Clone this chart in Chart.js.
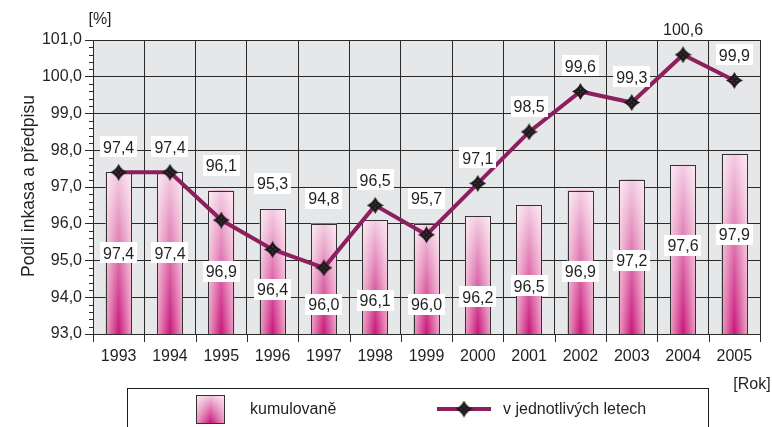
<!DOCTYPE html>
<html>
<head>
<meta charset="utf-8">
<script src="https://cdn.jsdelivr.net/npm/chart.js@4.4.0/dist/chart.umd.min.js"></script>
<style>
  html, body { margin: 0; padding: 0; background: #fff; }
  #wrap { width: 772px; height: 427px; }
</style>
</head>
<body>
<div id="wrap"><canvas id="graf" width="772" height="427"></canvas></div>
<script>
// data
const roky = ['1993', '1994', '1995', '1996', '1997', '1998', '1999', '2000', '2001', '2002', '2003', '2004', '2005'];
const kumulovane = [97.4, 97.4, 96.9, 96.4, 96.0, 96.1, 96.0, 96.2, 96.5, 96.9, 97.2, 97.6, 97.9];
const vLetech = [97.4, 97.4, 96.1, 95.3, 94.8, 96.5, 95.7, 97.1, 98.5, 99.6, 99.3, 100.6, 99.9];
const osaMin = 93;
const osaMax = 101;

const FONT = '"Liberation Sans", Arial, sans-serif';
const TEXT = '#231f20';
const GRID = '#2a2a2a';
const LINE = '#8d1f5e';

const fmt = (v) => v.toFixed(1).replace('.', ',');

// marker - ctyrcipa hvezda
function hvezda() {
  const s = 17, m = s / 2, k = 2.6;
  const c = document.createElement('canvas');
  c.width = s; c.height = s;
  const g = c.getContext('2d');
  g.fillStyle = '#1b1b1b';
  g.beginPath();
  g.moveTo(m, 0);
  g.quadraticCurveTo(m + k, m - k, s, m);
  g.quadraticCurveTo(m + k, m + k, m, s);
  g.quadraticCurveTo(m - k, m + k, 0, m);
  g.quadraticCurveTo(m - k, m - k, m, 0);
  g.fill();
  g.fillStyle = '#b8407a';
  [[-2.5, 0], [2.5, 0], [0, -2.5], [0, 2.5]].forEach(([dx, dy]) => {
    g.fillRect(m + dx - 0.5, m + dy - 0.5, 1, 1);
  });
  return c;
}
const marker = hvezda();

// sloupec s prechodem: tmavy stred dole, svetle okraje a vrsek
function namalujSloupec(ctx, x0, y0, w, h) {
  const g = ctx.createLinearGradient(x0, 0, x0 + w, 0);
  g.addColorStop(0, '#eea0c5');
  g.addColorStop(0.5, '#c8177a');
  g.addColorStop(1, '#eea0c5');
  ctx.fillStyle = g;
  ctx.fillRect(x0, y0, w, h);
  const v = ctx.createLinearGradient(0, y0, 0, y0 + h);
  v.addColorStop(0, 'rgba(255,255,255,0.78)');
  v.addColorStop(0.55, 'rgba(255,255,255,0.35)');
  v.addColorStop(1, 'rgba(255,255,255,0)');
  ctx.fillStyle = v;
  ctx.fillRect(x0, y0, w, h);
  ctx.strokeStyle = '#333';
  ctx.lineWidth = 1;
  ctx.strokeRect(Math.round(x0) + 0.5, Math.round(y0) + 0.5, Math.round(w) - 1, Math.round(h));
}

function stitek(ctx, text, x, y) {
  ctx.font = '16px ' + FONT;
  const w = ctx.measureText(text).width + 6;
  ctx.fillStyle = '#fff';
  ctx.fillRect(Math.round(x - w / 2), Math.round(y - 11), Math.round(w), 21);
  ctx.fillStyle = TEXT;
  ctx.textAlign = 'center';
  ctx.textBaseline = 'middle';
  ctx.fillText(text, x, y + 1);
}

const pozadi = {
  id: 'pozadi',
  beforeDraw(chart) {
    const { ctx, chartArea: a } = chart;
    ctx.save();
    ctx.fillStyle = '#e6e7e8';
    ctx.fillRect(a.left, a.top, a.right - a.left, a.bottom - a.top);
    ctx.restore();
  }
};

const sloupce = {
  id: 'sloupce',
  afterDatasetDraw(chart, args) {
    if (args.meta.type !== 'bar') return;
    const ctx = chart.ctx;
    const dno = chart.chartArea.bottom;
    ctx.save();
    args.meta.data.forEach((el) => {
      const p = el.getProps(['x', 'y', 'width'], true);
      namalujSloupec(ctx, p.x - p.width / 2, p.y, p.width, dno - p.y);
    });
    ctx.restore();
  }
};

const popisky = {
  id: 'popisky',
  afterDraw(chart) {
    const ctx = chart.ctx;
    const x = chart.scales.x;
    const y = chart.scales.y;
    const sl = chart.getDatasetMeta(0).data;
    const ln = chart.getDatasetMeta(1).data;
    ctx.save();

    // vedlejsi carky na ose y
    ctx.strokeStyle = GRID;
    ctx.lineWidth = 1;
    for (let i = 0; i <= (osaMax - osaMin) * 5; i++) {
      if (i % 5 === 0) continue;
      const py = Math.round(y.getPixelForValue(osaMin + i * 0.2)) + 0.5;
      ctx.beginPath();
      ctx.moveTo(y.right - 4, py);
      ctx.lineTo(y.right, py);
      ctx.stroke();
    }
    // carky na ose x mezi roky
    const krok = x.getPixelForValue(1) - x.getPixelForValue(0);
    for (let i = 0; i <= roky.length; i++) {
      const px = Math.round(x.getPixelForValue(0) - krok / 2 + i * krok) + 0.5;
      ctx.beginPath();
      ctx.moveTo(px, x.top);
      ctx.lineTo(px, x.top + 8);
      ctx.stroke();
    }

    kumulovane.forEach((v, i) => {
      stitek(ctx, fmt(v), sl[i].x, y.getPixelForValue(v - 2.2));
    });
    vLetech.forEach((v, i) => {
      const top = Math.min(ln[i].y, sl[i].y);
      stitek(ctx, fmt(v), ln[i].x, top - 25);
    });

    // texty os
    ctx.fillStyle = TEXT;
    ctx.font = '16px ' + FONT;
    ctx.textAlign = 'center';
    ctx.textBaseline = 'middle';
    ctx.fillText('[%]', 100, 20);
    ctx.fillText('[Rok]', 752, 385);
    ctx.save();
    ctx.font = '17.5px ' + FONT;
    ctx.translate(29, 186);
    ctx.rotate(-Math.PI / 2);
    ctx.fillText('Podíl inkasa a předpisu', 0, 0);
    ctx.restore();

    // legenda
    ctx.strokeStyle = '#1b1b1b';
    ctx.lineWidth = 1;
    ctx.strokeRect(127.5, 388.5, 581, 60);
    namalujSloupec(ctx, 196, 395, 29, 28);
    ctx.fillStyle = TEXT;
    ctx.textAlign = 'left';
    ctx.fillText(ds[0].label, 250, 410);

    ctx.strokeStyle = LINE;
    ctx.lineWidth = 4;
    ctx.beginPath();
    ctx.moveTo(437, 409);
    ctx.lineTo(491, 409);
    ctx.stroke();
    ctx.drawImage(marker, 464 - marker.width / 2, 409 - marker.height / 2);
    ctx.fillStyle = TEXT;
    ctx.fillText(ds[1].label, 503, 410);

    ctx.restore();
  }
};

const ds = [
  {
    type: 'bar',
    label: 'kumulovaně',
    data: kumulovane,
    order: 2,
    barPercentage: 0.5,
    categoryPercentage: 1.0,
    borderWidth: 0,
    backgroundColor: '#e07aae'
  },
  {
    type: 'line',
    label: 'v jednotlivých letech',
    data: vLetech,
    order: 1,
    borderColor: LINE,
    borderWidth: 4,
    tension: 0,
    pointStyle: marker,
    pointRadius: 8
  }
];

new Chart(document.getElementById('graf'), {
  data: { labels: roky, datasets: ds },
  options: {
    responsive: false,
    animation: false,
    devicePixelRatio: 1,
    layout: { padding: { top: 40, right: 4, left: 0, bottom: 0 } },
    plugins: {
      legend: { display: false },
      tooltip: { enabled: false },
      title: { display: false }
    },
    scales: {
      x: {
        type: 'category',
        offset: true,
        grid: { offset: true, color: GRID, lineWidth: 1, drawTicks: false },
        border: { color: GRID, width: 1 },
        ticks: { color: TEXT, font: { family: FONT, size: 16 }, padding: 13, maxRotation: 0 },
        afterFit: (s) => { s.height = 93; }
      },
      y: {
        min: osaMin,
        max: osaMax,
        grid: { color: GRID, lineWidth: 1, tickLength: 8, tickColor: GRID },
        border: { color: GRID, width: 1 },
        ticks: {
          stepSize: 1,
          color: TEXT,
          font: { family: FONT, size: 16 },
          padding: 3,
          callback: (v) => fmt(v)
        },
        afterFit: (s) => { s.width = 93; }
      }
    }
  },
  plugins: [pozadi, sloupce, popisky]
});
</script>
</body>
</html>
